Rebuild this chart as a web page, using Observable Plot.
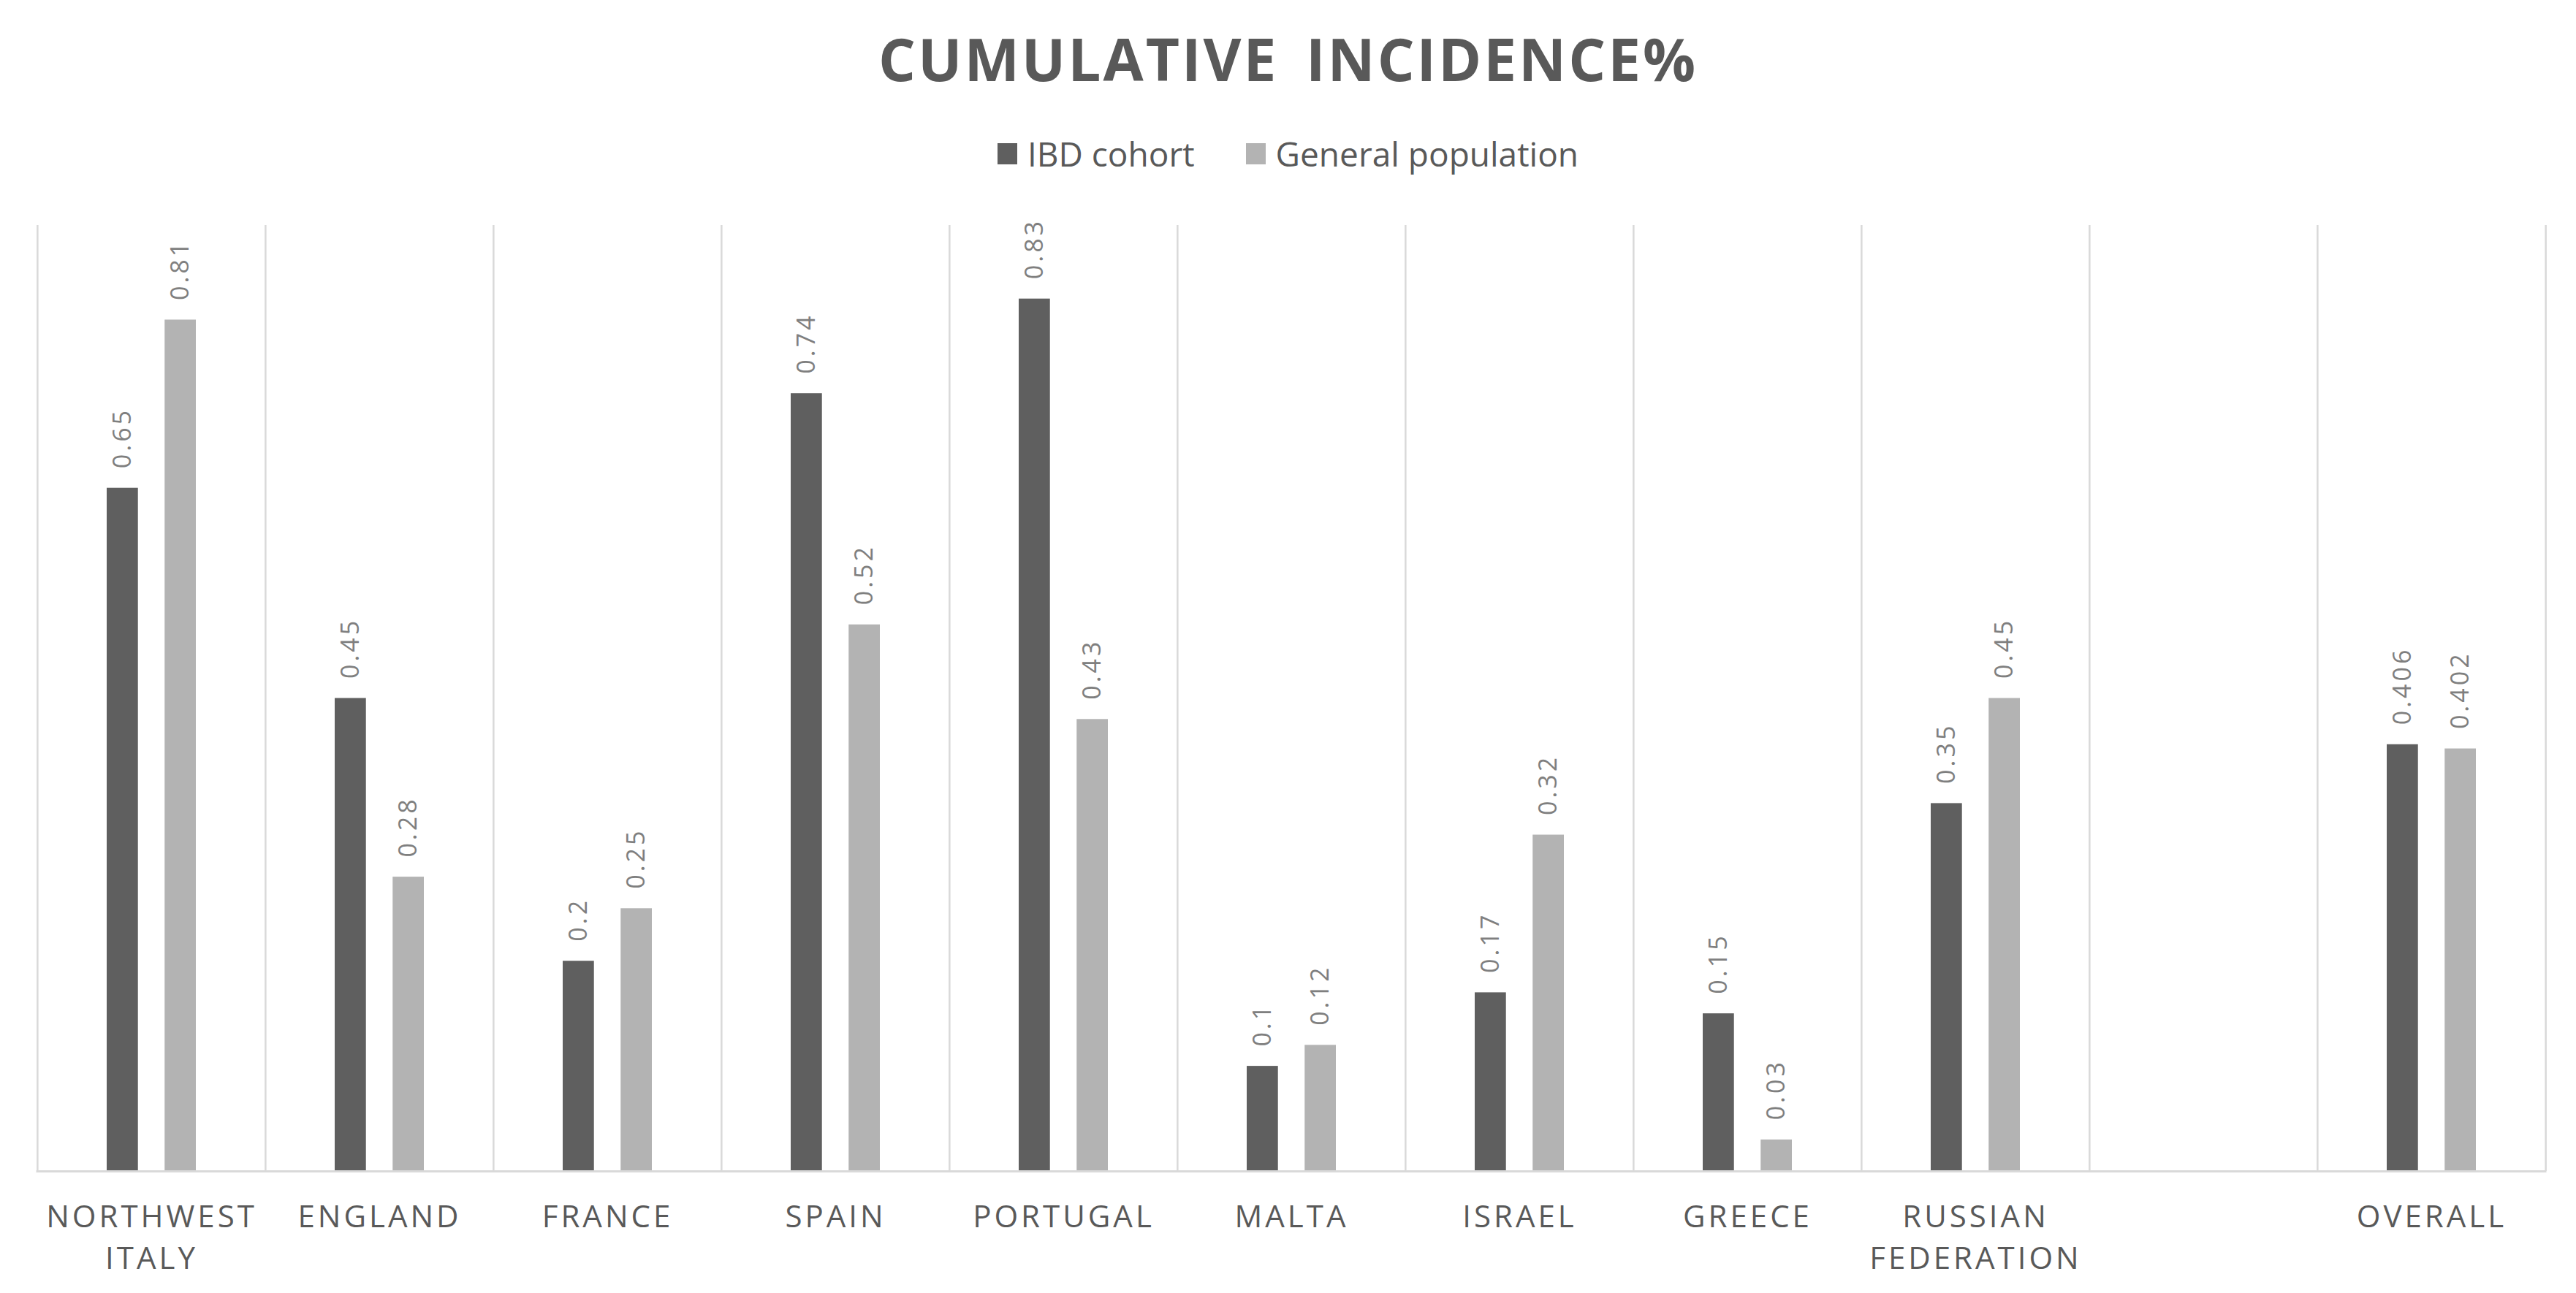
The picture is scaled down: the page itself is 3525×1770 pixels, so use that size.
<!DOCTYPE html>
<html><head><meta charset="utf-8">
<script src="https://cdn.jsdelivr.net/npm/d3@7"></script>
<script src="https://cdn.jsdelivr.net/npm/@observablehq/plot@0.6"></script>
<style>
html,body{margin:0;padding:0;background:#fff;overflow:hidden;}
body{width:3525px;height:1770px;font-family:"Open Sans",sans-serif;}
#title{height:160px;line-height:160px;text-align:center;font-size:80px;font-weight:700;color:#595959;letter-spacing:3px;word-spacing:14px;}
#legend{height:100px;display:flex;justify-content:center;align-items:center;gap:70px;font-size:46px;color:#595959;}
#legend .item{display:flex;align-items:center;gap:14px;}
#legend .sw{width:27px;height:29px;display:inline-block;}
#chart svg text{font-family:"Open Sans",sans-serif;}
#chart svg g[aria-label="x-axis tick label"] text{letter-spacing:4px;}
#chart svg g.vlabels text{letter-spacing:4px;}
</style>
</head><body>
<div id="title">CUMULATIVE INCIDENCE%</div>
<div id="legend"></div>
<div id="chart"></div>
<script>
const categories = ["Northwest Italy","England","France","Spain","Portugal","Malta","Israel","Greece","Russian Federation"," ","Overall"];
const tickLabels = ["NORTHWEST\nITALY","ENGLAND","FRANCE","SPAIN","PORTUGAL","MALTA","ISRAEL","GREECE","RUSSIAN\nFEDERATION","","OVERALL"];
const seriesNames = ["IBD cohort","General population"];
const ibdCohort = [0.65,0.45,0.2,0.74,0.83,0.1,0.17,0.15,0.35,null,0.406];
const generalPopulation = [0.81,0.28,0.25,0.52,0.43,0.12,0.32,0.03,0.45,null,0.402];
const colors = ["#5f5f5f","#b3b3b3"];

const W = 3525, H = 1510;
const mL = 49.5, mR = 40.5, mT = 48, mB = 167;
const bw = (W - mL - mR) / categories.length;
const barW = 43, outer = 95;
const inner = bw - outer - barW;
const half = outer + barW / 2 - bw / 2; // offset of bar center from band center (negative)

const rows = [];
categories.forEach((c, i) => {
  if (ibdCohort[i] != null) rows.push({category: c, series: seriesNames[0], value: ibdCohort[i]});
  if (generalPopulation[i] != null) rows.push({category: c, series: seriesNames[1], value: generalPopulation[i]});
});
const ibdRows = rows.filter(d => d.series === seriesNames[0]);
const genRows = rows.filter(d => d.series === seriesNames[1]);

// legend
const leg = document.getElementById("legend");
seriesNames.forEach((s, i) => {
  const it = document.createElement("div"); it.className = "item";
  const sw = document.createElement("span"); sw.className = "sw"; sw.style.background = colors[i];
  const t = document.createElement("span"); t.textContent = s;
  it.appendChild(sw); it.appendChild(t); leg.appendChild(it);
});

const labelMap = new Map(categories.map((c, i) => [c, tickLabels[i]]));

const chart = Plot.plot({
  width: W, height: H,
  marginLeft: mL, marginRight: mR, marginTop: mT, marginBottom: mB,
  style: {fontFamily: "Open Sans, sans-serif", background: "#fff"},
  x: {domain: categories, padding: 0, axis: null},
  y: {domain: [0, 0.9], axis: null},
  marks: [
    Plot.ruleX(categories, {x: d => d, dx: -bw / 2, stroke: "#d9d9d9", strokeWidth: 2.5}),
    Plot.ruleX([categories[categories.length - 1]], {x: d => d, dx: bw / 2, stroke: "#d9d9d9", strokeWidth: 2.5}),
    Plot.barY(ibdRows, {x: "category", y: "value", fill: colors[0], insetLeft: outer, insetRight: inner}),
    Plot.barY(genRows, {x: "category", y: "value", fill: colors[1], insetLeft: inner, insetRight: outer}),
    Plot.ruleY([0], {stroke: "#d9d9d9", strokeWidth: 3}),
    Plot.text(ibdRows, {x: "category", y: "value", text: d => String(d.value), rotate: -90, textAnchor: "start", dx: half, dy: -27, fontSize: 34, fill: "#7f7f7f", className: "vlabels"}),
    Plot.text(genRows, {x: "category", y: "value", text: d => String(d.value), rotate: -90, textAnchor: "start", dx: -half, dy: -27, fontSize: 34, fill: "#7f7f7f", className: "vlabels"}),
    Plot.axisX({domain: categories, tickSize: 0, tickPadding: 36, fontSize: 42, fill: "#595959", lineHeight: 1.36, tickFormat: d => labelMap.get(d), label: null})
  ]
});
document.getElementById("chart").appendChild(chart);
</script>
</body></html>
